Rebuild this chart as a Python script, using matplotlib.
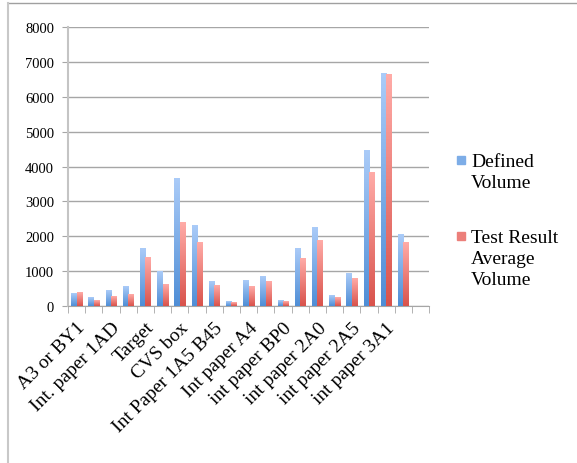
import numpy as np
import matplotlib
matplotlib.use("Agg")
import matplotlib.pyplot as plt
from matplotlib.colors import LinearSegmentedColormap
from matplotlib.lines import Line2D
from matplotlib.patches import Rectangle

plt.rcParams['font.family'] = ['Liberation Serif', 'DejaVu Serif']

# 21 slots on the category axis, the last one has no data
defined_volume = [345, 230, 431, 546, 1638, 996, 3649, 2299, 690, 115,
                  718, 833, 144, 1638, 2241, 287, 920, 4454, 6667, 2040, np.nan]
test_volume = [374, 144, 259, 316, 1379, 603, 2385, 1810, 575, 86,
               546, 690, 115, 1351, 1868, 230, 776, 3822, 6638, 1810, np.nan]
# only every other category name is printed on the axis
shown_labels = ['A3 or BY1', 'Int. paper 1AD', 'Target', 'CVS box',
                'Int Paper 1A5 B45', 'Int paper A4', 'int paper BP0',
                'int paper 2A0', 'int paper 2A5', 'int paper 3A1']
series_names = ['Defined\nVolume', 'Test Result\nAverage\nVolume']

blue_cmap = LinearSegmentedColormap.from_list('b', ['#4f8ed6', '#aacbf8'])
red_cmap = LinearSegmentedColormap.from_list('r', ['#d9534c', '#ffaba7'])

fig = plt.figure(figsize=(5.77, 4.64), dpi=100)
ax = fig.add_axes([0.118, 0.338, 0.626, 0.602])

n = len(defined_volume)
x = np.arange(n)
w = 0.32
grad = np.linspace(0, 1, 64).reshape(-1, 1)

for vals, off, cmap in [(defined_volume, -w / 2, blue_cmap), (test_volume, w / 2, red_cmap)]:
    for xi, v in zip(x, vals):
        if np.isnan(v):
            continue
        ax.imshow(grad, cmap=cmap, origin='lower', aspect='auto',
                  extent=(xi + off - w / 2, xi + off + w / 2, 0, v), zorder=3)

ax.set_xlim(-0.5, n - 0.5)
ax.set_ylim(0, 8000)
ax.set_yticks(np.arange(0, 8001, 1000))
ax.yaxis.grid(True, color='#a6a6a6', linewidth=1)
ax.set_axisbelow(True)
for s in ['top', 'right']:
    ax.spines[s].set_visible(False)
ax.spines['left'].set_color('#c4c4c4')
ax.spines['left'].set_linewidth(1.5)
ax.spines['bottom'].set_color('#a6a6a6')
ax.tick_params(axis='y', length=4, color='#a6a6a6', labelsize=10.5, pad=6)

ax.set_xticks(x[:len(shown_labels) * 2:2])
ax.set_xticklabels(shown_labels, rotation=45, ha='right', rotation_mode='anchor',
                   fontsize=14)
ax.tick_params(axis='x', length=0, pad=9)
ax.set_xticks(np.arange(-0.5, n, 1), minor=True)
ax.tick_params(axis='x', which='minor', length=5, color='#a6a6a6')

# legend drawn by hand so the marker sits on the first text line
for name, cmap, ytop in [(series_names[0], blue_cmap, 157), (series_names[1], red_cmap, 233)]:
    fig.patches.append(Rectangle((457 / 577, 1 - (ytop + 8) / 464), 8 / 577, 8 / 464,
                                 transform=fig.transFigure, color=cmap(0.5)))
    fig.text(471 / 577, 1 - (ytop - 3) / 464, name, fontsize=14, va='top', ha='left',
             linespacing=1.3)

# outer chart frame
fig.add_artist(Line2D([8 / 577, 1], [1 - 4 / 464, 1 - 4 / 464], transform=fig.transFigure,
                      color='#a0a0a0', linewidth=1))
fig.add_artist(Line2D([8 / 577, 8 / 577], [0, 1 - 4 / 464], transform=fig.transFigure,
                      color='#c8c8c8', linewidth=1.5))

fig.savefig('out.png', dpi=100)
